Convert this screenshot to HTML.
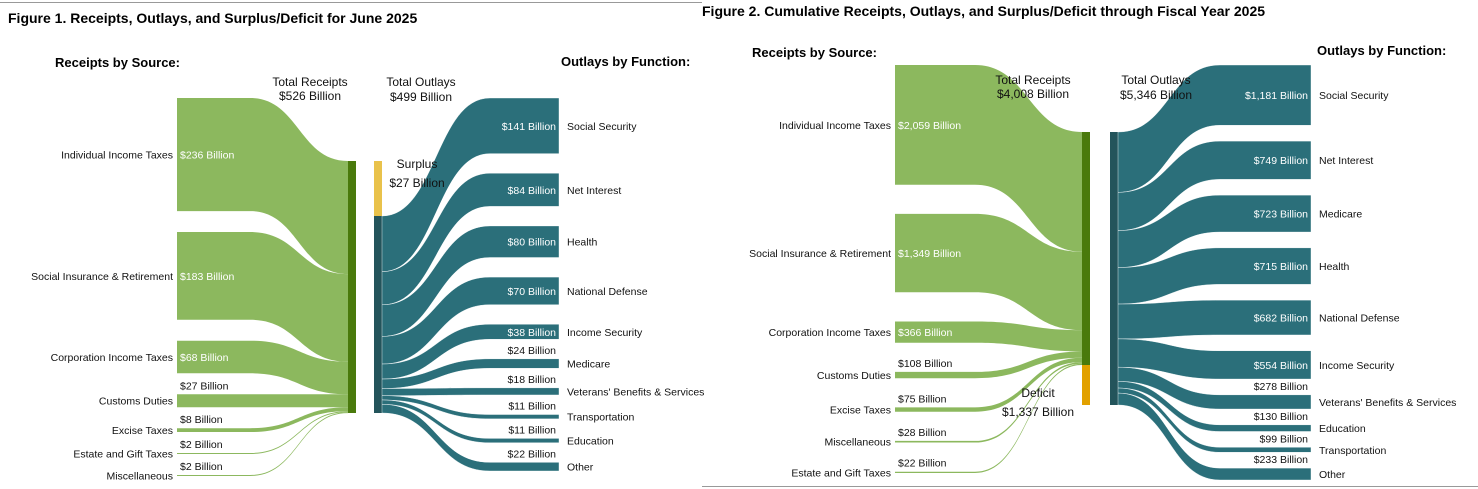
<!DOCTYPE html>
<html><head><meta charset="utf-8">
<style>
body{margin:0;background:#fff;}
svg{display:block;font-family:"Liberation Sans",Arial,sans-serif;}
.t{font-weight:bold;font-size:14px;fill:#000}
.h{font-weight:bold;font-size:13px;fill:#000}
.l{font-size:10.5px;fill:#111}
.v{font-size:10.5px}
.tot{font-size:12px;fill:#111}
</style></head><body>
<svg id="chart" width="1478" height="489" viewBox="0 0 1478 489">
<line x1="0" y1="2.5" x2="702" y2="2.5" stroke="#999" stroke-width="1"/>
<line x1="702" y1="486.5" x2="1478" y2="486.5" stroke="#999" stroke-width="1"/>
<text class="t" x="8" y="23">Figure 1. Receipts, Outlays, and Surplus/Deficit for June 2025</text>
<text class="t" x="702" y="16">Figure 2. Cumulative Receipts, Outlays, and Surplus/Deficit through Fiscal Year 2025</text>
<text class="h" x="55" y="67">Receipts by Source:</text>
<text class="h" x="561" y="66">Outlays by Function:</text>
<text class="h" x="752" y="57">Receipts by Source:</text>
<text class="h" x="1317" y="55">Outlays by Function:</text>
<g id="g1"></g>
<g id="g2"></g>
</svg>
<script>
const fig1SourceNames = ["Individual Income Taxes","Social Insurance & Retirement","Corporation Income Taxes","Customs Duties","Excise Taxes","Estate and Gift Taxes","Miscellaneous"];
const fig1SourceValues = [236,183,68,27,8,2,2];
const fig1OutlayNames = ["Social Security","Net Interest","Health","National Defense","Income Security","Medicare","Veterans' Benefits & Services","Transportation","Education","Other"];
const fig1OutlayValues = [141,84,80,70,38,24,18,11,11,22];
const fig1TotalReceipts = 526;
const fig1TotalOutlays = 499;
const fig1Balance = 27;

const fig2SourceNames = ["Individual Income Taxes","Social Insurance & Retirement","Corporation Income Taxes","Customs Duties","Excise Taxes","Miscellaneous","Estate and Gift Taxes"];
const fig2SourceValues = [2059,1349,366,108,75,28,22];
const fig2OutlayNames = ["Social Security","Net Interest","Medicare","Health","National Defense","Income Security","Veterans' Benefits & Services","Education","Transportation","Other"];
const fig2OutlayValues = [1181,749,723,715,682,554,278,130,99,233];
const fig2TotalReceipts = 4008;
const fig2TotalOutlays = 5346;
const fig2Balance = 1337;

const NS="http://www.w3.org/2000/svg";
function mk(tag,attrs,parent){const e=document.createElementNS(NS,tag);for(const k in attrs)e.setAttribute(k,attrs[k]);parent.appendChild(e);return e;}
function fmt(v){return "$"+v.toLocaleString("en-US")+" Billion";}

function drawSankey(g,c,srcN,srcV,outN,outV,totR,totO,bal){
  const kL=c.recH/totR, kR=c.outH/totO;
  const sumL=srcV.reduce((a,b)=>a+b,0), sumR=outV.reduce((a,b)=>a+b,0);
  const recTop=c.barTop, recBot=recTop+totR*kL;
  let outTop,outBot;
  if(totR>=totO){outBot=recBot;outTop=outBot-totO*kR;}else{outTop=recTop;outBot=outTop+totO*kR;}
  const hL=srcV.map(v=>Math.max(v*kL,1));
  const gapL=(c.lBot-c.lTop-hL.reduce((a,b)=>a+b,0))/(hL.length-1);
  let y=c.lTop, by=recTop;
  srcV.forEach((v,i)=>{
    const h=hL[i], bh=v*kL*(totR/sumL);
    const y0=y,y1=y+h,b0=by,b1=by+Math.max(bh,1);
    const xa=c.lFlat, xb=c.recX, xm=(xa+xb)/2;
    const p=mk("path",{d:`M${c.lX},${y0}H${xa}C${xm},${y0} ${xm},${b0} ${xb},${b0}V${b1}C${xm},${b1} ${xm},${y1} ${xa},${y1}H${c.lX}Z`,fill:"#8cb85e"},g);
    
    
    const lab=mk("text",{class:"l",x:c.lX-4,y:(y0+y1)/2+4,"text-anchor":"end"},g);lab.textContent=srcN[i];
    
    
    const big=h>=c.thrL;
    const vt=mk("text",{class:"v",x:c.lX+3,y:big?(y0+y1)/2+4:y0-5,fill:big?"#fff":"#111"},g);vt.textContent=fmt(v);
    
    
    y=y1+gapL; by=b1;
  });
  const rb=mk("rect",{x:c.recX,y:recTop,width:8,height:recBot-recTop,fill:"#4a7a0c"},g);
  
  
  const ob=mk("rect",{x:c.outX,y:outTop,width:8,height:outBot-outTop,fill:"#23545b"},g);
  
  
  if(totR>=totO){
    const s=mk("rect",{x:c.outX,y:recTop,width:8,height:outTop-recTop,fill:"#e9c24b"},g);
    
    
  }else{
    const d=mk("rect",{x:c.recX,y:recBot,width:8,height:outBot-recBot,fill:"#e2a100"},g);
    
    
  }
  const hR=outV.map(v=>Math.max(v*kR,1.5));
  const gapR=(c.rBot-c.rTop-hR.reduce((a,b)=>a+b,0))/(hR.length-1);
  y=c.rTop; by=outTop;
  outV.forEach((v,i)=>{
    const h=hR[i], bh=v*kR*(totO/sumR);
    const y0=y,y1=y+h,b0=by,b1=by+Math.max(bh,1);
    const xa=c.outX+8, xb=c.rFlat, xm=(xa+xb)/2;
    const p=mk("path",{d:`M${xa},${b0}C${xm},${b0} ${xm},${y0} ${xb},${y0}H${c.rX}V${y1}H${xb}C${xm},${y1} ${xm},${b1} ${xa},${b1}Z`,fill:"#2b6f7a",stroke:"#fff","stroke-width":"0.4"},g);
    
    
    const lab=mk("text",{class:"l",x:c.rX+8,y:(y0+y1)/2+4},g);lab.textContent=outN[i];
    
    
    const big=h>=c.thrR;
    const vt=mk("text",{class:"v",x:c.rX-3,y:big?(y0+y1)/2+4:y0-5,fill:big?"#fff":"#111","text-anchor":"end"},g);vt.textContent=fmt(v);
    
    
    y=y1+gapR; by=b1;
  });
  const cx1=c.recTotX;
  [["Total Receipts",cx1,c.totY],[fmt(totR),cx1,c.totY+14],["Total Outlays",c.outTotX,c.totY],[fmt(totO),c.outTotX,c.totY+15]].forEach(a=>{
    const t=mk("text",{class:"tot",x:a[1],y:a[2],"text-anchor":"middle"},g);t.textContent=a[0];
    
    
  });
  [[totR>=totO?"Surplus":"Deficit",c.sdX,c.sdY],[fmt(bal),c.sdX,c.sdY+19]].forEach(a=>{
    const t=mk("text",{class:"tot",x:a[1],y:a[2],"text-anchor":"middle"},g);t.textContent=a[0];
    
    
  });
}
drawSankey(document.getElementById("g1"),
  {lX:177,lFlat:250,recX:348,outX:374,rFlat:490,rX:559,barTop:161,recH:252,outH:197,
   lTop:98,lBot:476,rTop:98,rBot:471,thrL:14,thrR:14,totY:86,recTotX:310,outTotX:421,sdX:417,sdY:168},
  fig1SourceNames,fig1SourceValues,fig1OutlayNames,fig1OutlayValues,fig1TotalReceipts,fig1TotalOutlays,fig1Balance);
drawSankey(document.getElementById("g2"),
  {lX:895,lFlat:975,recX:1082,outX:1110,rFlat:1220,rX:1311,barTop:132,recH:233,outH:273,
   lTop:65,lBot:473,rTop:65,rBot:480,thrL:14,thrR:18,totY:84,recTotX:1033,outTotX:1156,sdX:1038,sdY:397},
  fig2SourceNames,fig2SourceValues,fig2OutlayNames,fig2OutlayValues,fig2TotalReceipts,fig2TotalOutlays,fig2Balance);
</script>
</body></html>
